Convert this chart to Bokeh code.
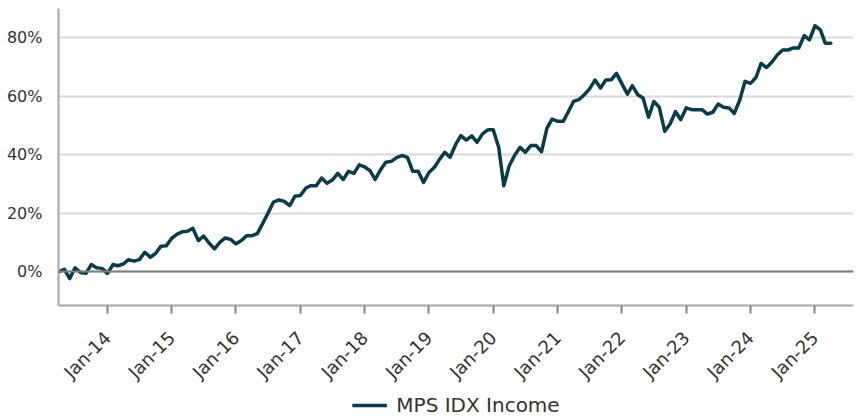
import pandas as pd
from math import pi
from bokeh.plotting import figure
from bokeh.layouts import column
from bokeh.models import (Range1d, FixedTicker, PrintfTickFormatter, DatetimeTickFormatter,
                          Span, Legend, LegendItem, ColumnDataSource)
from bokeh.embed import file_html
from bokeh.resources import INLINE

# ---- data (monthly, Apr 2013 - Apr 2025), cumulative return in % ----
start_month = "2013-04-01"
values = [
    0.0, 0.8, -2.4, 1.3, -0.3, -0.6, 2.4, 1.3, 1.1, -0.6,
    2.4, 2.0, 2.6, 4.1, 3.6, 4.1, 6.6, 4.9, 6.2, 8.7,
    8.8, 11.4, 12.8, 13.6, 13.8, 14.8, 10.6, 12.1, 9.8, 7.8,
    10.0, 11.5, 11.0, 9.5, 10.6, 12.3, 12.3, 13.0, 16.5, 20.0,
    23.8, 24.5, 24.0, 22.6, 25.8, 26.0, 28.6, 29.4, 29.4, 32.0,
    30.2, 31.3, 33.6, 31.5, 34.3, 33.6, 36.5, 35.8, 34.5, 31.5,
    34.8, 37.4, 37.7, 39.0, 39.7, 39.1, 34.3, 34.3, 30.5, 33.9,
    35.7, 38.3, 40.8, 39.1, 43.4, 46.5, 45.0, 46.4, 44.2, 47.1,
    48.5, 48.5, 42.5, 29.4, 36.2, 39.7, 42.5, 40.8, 43.1, 43.1,
    41.0, 49.1, 52.2, 51.4, 51.4, 54.5, 58.2, 58.8, 60.5, 62.5,
    65.5, 62.8, 65.5, 65.6, 67.8, 64.2, 60.7, 63.6, 60.5, 59.4,
    52.8, 58.2, 56.2, 48.0, 50.5, 54.7, 52.0, 56.0, 55.4, 55.4,
    55.4, 53.9, 54.5, 57.3, 56.2, 56.0, 54.1, 58.7, 65.1, 64.4,
    66.4, 71.2, 69.8, 71.6, 74.1, 75.8, 75.8, 76.5, 76.5, 80.7,
    79.3, 84.1, 82.7, 78.1, 78.1,
]
dates = pd.date_range(start=start_month, periods=len(values), freq="MS")
series_name = "MPS IDX Income"
y_ticks = [0, 20, 40, 60, 80]
x_tick_years = list(range(2014, 2026))

FONT = "DejaVu Sans"
LINE_COLOR = "#0a3c48"
TEXT_COLOR = "#333333"
AXIS_COLOR = "#a6a6a6"
LINE_W = 3.5

src = ColumnDataSource(dict(date=dates, val=values))

p = figure(width=854, height=392, x_axis_type="datetime",
           output_backend="svg", toolbar_location=None,
           x_range=Range1d(pd.Timestamp("2013-03-29"), pd.Timestamp("2025-08-08")),
           y_range=Range1d(-11.6, 90),
           min_border_left=58, min_border_top=8, min_border_right=1, min_border_bottom=87)
p.outline_line_color = None
p.background_fill_color = "white"

# grid
p.xgrid.grid_line_color = None
p.ygrid.grid_line_color = "#d9d9d9"
p.ygrid.grid_line_width = 2
p.ygrid.ticker = FixedTicker(ticks=y_ticks)

# zero line
p.add_layout(Span(location=0, dimension="width", line_color="#7f7f7f", line_width=2))

r = p.line("date", "val", source=src, line_color=LINE_COLOR, line_width=LINE_W,
           line_join="round", line_cap="round")

# y axis
p.yaxis.ticker = FixedTicker(ticks=y_ticks)
p.yaxis.formatter = PrintfTickFormatter(format="%d%%")
p.yaxis.axis_line_color = AXIS_COLOR
p.yaxis.axis_line_width = 2
p.yaxis.major_tick_line_color = None
p.yaxis.minor_tick_line_color = None
p.yaxis.major_label_text_font = FONT
p.yaxis.major_label_text_font_size = "16px"
p.yaxis.major_label_text_color = TEXT_COLOR
p.yaxis.major_label_standoff = 10

# x axis
xticks = [pd.Timestamp(f"{y}-01-01").value // 10**6 for y in x_tick_years]
p.xaxis.ticker = FixedTicker(ticks=xticks)
fmt = "%b-%y"
p.xaxis.formatter = DatetimeTickFormatter(years=fmt, months=fmt, days=fmt, hours=fmt,
                                          minutes=fmt, seconds=fmt, milliseconds=fmt,
                                          minsec=fmt, hourmin=fmt)
p.xaxis.axis_line_color = AXIS_COLOR
p.xaxis.axis_line_width = 2
p.xaxis.major_tick_line_color = "#808080"
p.xaxis.major_tick_line_width = 2
p.xaxis.major_tick_out = 8
p.xaxis.major_tick_in = 0
p.xaxis.minor_tick_line_color = None
p.xaxis.major_label_orientation = pi / 4
p.xaxis.major_label_text_font = FONT
p.xaxis.major_label_text_font_size = "18px"
p.xaxis.major_label_text_color = TEXT_COLOR
p.xaxis.major_label_standoff = 21

# ---- legend strip below the chart (key line drawn from the same series, outside its view) ----
leg = figure(width=854, height=26, output_backend="svg", toolbar_location=None,
             x_range=Range1d(0, 1), y_range=Range1d(0, 1),
             min_border_left=52, min_border_right=1, min_border_top=0, min_border_bottom=0)
leg.outline_line_color = None
leg.xaxis.visible = False
leg.yaxis.visible = False
leg.xgrid.grid_line_color = None
leg.ygrid.grid_line_color = None
key = leg.line("date", "val", source=src, line_color=LINE_COLOR, line_width=LINE_W)
legend = Legend(items=[LegendItem(label=series_name, renderers=[key])],
                location="center", orientation="horizontal",
                border_line_color=None, background_fill_alpha=0,
                label_text_font=FONT, label_text_font_size="20px",
                label_text_color=TEXT_COLOR, glyph_width=35, glyph_height=18,
                label_standoff=10, margin=0, padding=2)
leg.add_layout(legend, "center")

open("out.html", "w").write(file_html(column(p, leg, spacing=0), INLINE))
